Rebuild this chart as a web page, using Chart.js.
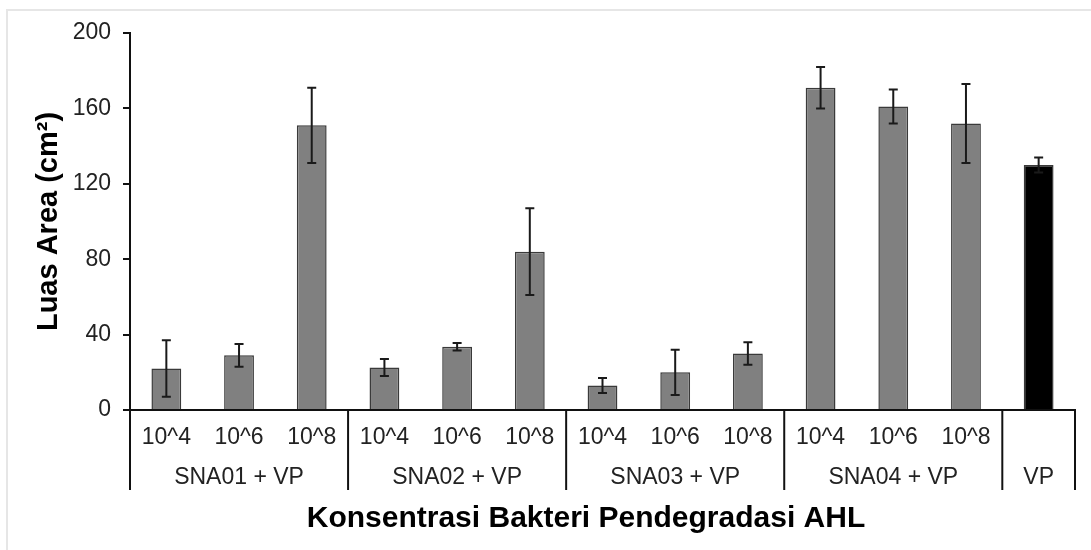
<!DOCTYPE html>
<html>
<head>
<meta charset="utf-8">
<script src="https://cdn.jsdelivr.net/npm/chart.js@4"></script>
<style>
  html, body { margin: 0; padding: 0; background: #fff; }
  #wrap { width: 1091px; height: 550px; }
</style>
</head>
<body>
<div id="wrap"><canvas id="area-chart" width="1091" height="550"></canvas></div>
<script>
const categories = ['10^4', '10^6', '10^8', '10^4', '10^6', '10^8', '10^4', '10^6', '10^8', '10^4', '10^6', '10^8', ''];
const areaMeans = [22, 29, 151, 22.5, 33.5, 84, 13, 20, 30, 171, 161, 152, 130];
const areaErrors = [15, 6, 20, 4.5, 2, 23, 4, 12, 6, 11, 9, 21, 4];
const groupNames = ['SNA01 + VP', 'SNA02 + VP', 'SNA03 + VP', 'SNA04 + VP', 'VP'];
const groupSizes = [3, 3, 3, 3, 1];
const yTicks = [0, 40, 80, 120, 160, 200];

const FONT = '"Liberation Sans", Arial, sans-serif';

const barColors = areaMeans.map((v, i) => i === areaMeans.length - 1 ? '#000000' : '#808080');

// error bars, group separators, group labels, axis title and frame
const decorPlugin = {
    id: 'decor',
    beforeDraw(chart) {
        const ctx = chart.ctx;
        ctx.save();
        ctx.strokeStyle = '#e6e6e6';
        ctx.lineWidth = 2;
        ctx.beginPath();
        ctx.moveTo(7, chart.height);
        ctx.lineTo(7, 10);
        ctx.lineTo(chart.width, 10);
        ctx.stroke();
        ctx.restore();
    },
    afterDatasetsDraw(chart) {
        const ctx = chart.ctx;
        const y = chart.scales.y;
        const meta = chart.getDatasetMeta(0);
        ctx.save();
        ctx.strokeStyle = '#1a1a1a';
        ctx.lineWidth = 2;
        meta.data.forEach((bar, i) => {
            const top = y.getPixelForValue(areaMeans[i] + areaErrors[i]);
            const bot = y.getPixelForValue(areaMeans[i] - areaErrors[i]);
            ctx.beginPath();
            ctx.moveTo(bar.x, top);
            ctx.lineTo(bar.x, bot);
            ctx.moveTo(bar.x - 4.5, top);
            ctx.lineTo(bar.x + 4.5, top);
            ctx.moveTo(bar.x - 4.5, bot);
            ctx.lineTo(bar.x + 4.5, bot);
            ctx.stroke();
        });
        ctx.restore();
    },
    afterDraw(chart) {
        const ctx = chart.ctx;
        const x = chart.scales.x;
        const base = chart.chartArea.bottom;
        ctx.save();
        ctx.strokeStyle = '#111';
        ctx.lineWidth = 2;
        ctx.fillStyle = '#222';
        ctx.font = '23px ' + FONT;
        ctx.textAlign = 'center';
        ctx.textBaseline = 'middle';

        let start = 0;
        const edges = [x.getPixelForValue(-0.5)];
        groupSizes.forEach((n, g) => {
            const end = start + n - 1;
            edges.push(x.getPixelForValue(end + 0.5));
            ctx.fillText(groupNames[g], x.getPixelForValue((start + end) / 2), base + 68);
            start += n;
        });
        edges.forEach(px => {
            ctx.beginPath();
            ctx.moveTo(px, base - 1);
            ctx.lineTo(px, base + 80);
            ctx.stroke();
        });

        ctx.fillStyle = '#000';
        ctx.font = 'bold 30px ' + FONT;
        ctx.fillText('Konsentrasi Bakteri Pendegradasi AHL', 586, 519);
        ctx.restore();
    }
};

const ctx = document.getElementById('area-chart').getContext('2d');

const chart = new Chart(ctx, {
    type: 'bar',
    data: {
        labels: categories,
        datasets: [{
            data: areaMeans,
            backgroundColor: barColors,
            borderColor: '#3a3a3a',
            borderWidth: 1.5,
            categoryPercentage: 1,
            barPercentage: 0.41
        }]
    },
    options: {
        responsive: false,
        animation: false,
        layout: { padding: { top: 33, right: 16, bottom: 0, left: 0 } },
        plugins: {
            legend: { display: false },
            tooltip: { enabled: false }
        },
        scales: {
            x: {
                grid: { display: false, drawTicks: false },
                border: { display: true, color: '#111', width: 2 },
                ticks: {
                    color: '#222',
                    font: { family: FONT, size: 23 },
                    padding: 14,
                    maxRotation: 0,
                    autoSkip: false
                },
                afterFit(scale) { scale.height = 140; }
            },
            y: {
                min: 0,
                max: 200,
                afterBuildTicks(scale) { scale.ticks = yTicks.map(v => ({ value: v })); },
                grid: { drawOnChartArea: false, color: '#111', lineWidth: 2, tickLength: 7 },
                border: { display: true, color: '#111', width: 2 },
                ticks: {
                    color: '#222',
                    font: { family: FONT, size: 23 },
                    padding: 12
                },
                title: {
                    display: true,
                    text: 'Luas Area (cm²)',
                    color: '#000',
                    font: { family: FONT, size: 29, weight: 'bold' },
                    padding: { top: 32, bottom: 0 }
                },
                afterFit(scale) { scale.width = 130; }
            }
        }
    },
    plugins: [decorPlugin]
});
</script>
</body>
</html>
